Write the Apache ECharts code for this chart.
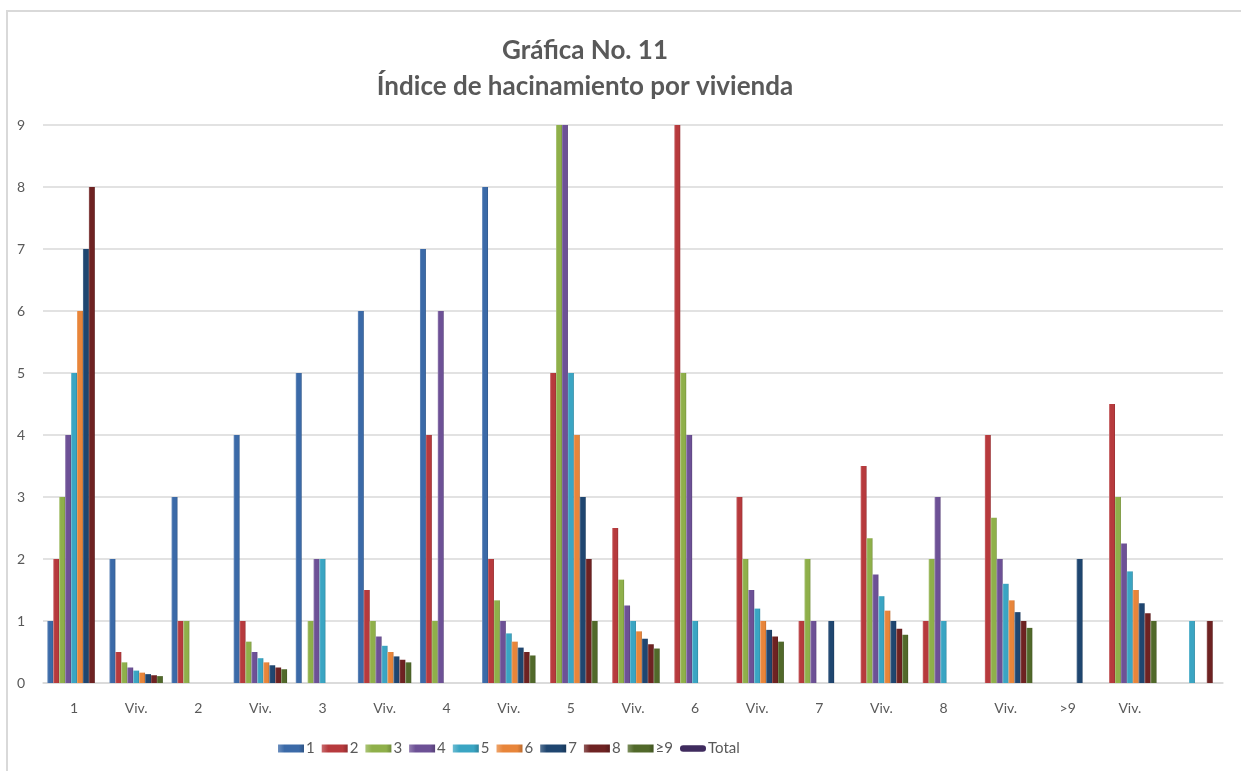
<!DOCTYPE html>
<html>
<head>
<meta charset="utf-8">
<script src="https://cdn.jsdelivr.net/npm/echarts@6/dist/echarts.min.js"></script>
<style>
  html, body { margin: 0; padding: 0; background: #ffffff; }
  #chart { width: 1241px; height: 771px; }
</style>
</head>
<body>
<div id="chart"></div>
<script>
// Categories along the x axis (last slot has no label)
const categories = ['1', 'Viv.', '2', 'Viv.', '3', 'Viv.', '4', 'Viv.', '5', 'Viv.', '6', 'Viv.', '7', 'Viv.', '8', 'Viv.', '>9', 'Viv.', ''];

// Series names, as shown in the legend
const seriesNames = ['1', '2', '3', '4', '5', '6', '7', '8', '≥9'];

// Values per series (null = no bar)
const s1 = [1, 2, 3, 4, 5, 6, 7, 8, null, null, null, null, null, null, null, null, null, null, null];
const s2 = [2, 0.5, 1, 1, null, 1.5, 4, 2, 5, 2.5, 9, 3, 1, 3.5, 1, 4, null, 4.5, null];
const s3 = [3, 0.333, 1, 0.667, 1, 1, 1, 1.333, 9, 1.667, 5, 2, 2, 2.333, 2, 2.667, null, 3, null];
const s4 = [4, 0.25, null, 0.5, 2, 0.75, 6, 1, 9, 1.25, 4, 1.5, 1, 1.75, 3, 2, null, 2.25, null];
const s5 = [5, 0.2, null, 0.4, 2, 0.6, null, 0.8, 5, 1, 1, 1.2, null, 1.4, 1, 1.6, null, 1.8, 1];
const s6 = [6, 0.167, null, 0.333, null, 0.5, null, 0.667, 4, 0.833, null, 1, null, 1.167, null, 1.333, null, 1.5, null];
const s7 = [7, 0.143, null, 0.286, null, 0.429, null, 0.571, 3, 0.714, null, 0.857, 1, 1, null, 1.143, 2, 1.286, null];
const s8 = [8, 0.125, null, 0.25, null, 0.375, null, 0.5, 2, 0.625, null, 0.75, null, 0.875, null, 1, null, 1.125, 1];
const s9 = [null, 0.111, null, 0.222, null, 0.333, null, 0.444, 1, 0.556, null, 0.667, null, 0.778, null, 0.889, null, 1, null];
const seriesValues = [s1, s2, s3, s4, s5, s6, s7, s8, s9];

// Total line (no points plotted)
const total = [];

// Y axis ticks
const yMin = 0, yMax = 9, yStep = 1;

const palette = ['#3b6aa8', '#b73a3d', '#8fb04a', '#6d5196', '#3aa5c3', '#e8853a', '#1f4670', '#6e2222', '#51692a'];
const totalColor = '#3f2b5e';

function shade(hex, f) {
  const n = parseInt(hex.slice(1), 16);
  let r = (n >> 16) & 255, g = (n >> 8) & 255, b = n & 255;
  const adj = c => Math.max(0, Math.min(255, Math.round(f > 0 ? c + (255 - c) * f : c * (1 + f))));
  return 'rgb(' + adj(r) + ',' + adj(g) + ',' + adj(b) + ')';
}

const font = 'Lato, "Open Sans", sans-serif';
const chart = echarts.init(document.getElementById('chart'), null, { renderer: 'canvas' });

const barSeries = seriesNames.map((name, i) => ({
  name: name,
  type: 'bar',
  data: seriesValues[i],
  barGap: '0%',
  barCategoryGap: '14%',
  clip: true,
  itemStyle: {
    color: new echarts.graphic.LinearGradient(0, 0, 1, 0, [
      { offset: 0, color: shade(palette[i], 0.25) },
      { offset: 0.25, color: palette[i] },
      { offset: 0.8, color: palette[i] },
      { offset: 1, color: shade(palette[i], -0.2) }
    ])
  }
}));

// Capsule-shaped legend marker for the line series
const capsule = 'path://M2.5,0 H17.5 A2.5,2.5 0 0 1 17.5,5 H2.5 A2.5,2.5 0 0 1 2.5,0 Z';

chart.setOption({
  animation: false,
  backgroundColor: '#ffffff',
  graphic: [{
    type: 'polyline',
    shape: { points: [[7, 900], [7, 11], [1300, 11]] },
    style: { stroke: '#d9d9d9', lineWidth: 2, fill: null }
  }],
  title: {
    text: 'Gráfica No. 11\nÍndice de hacinamiento por vivienda',
    left: 580,
    top: 28,
    textAlign: 'center',
    textStyle: {
      fontFamily: font,
      fontWeight: 'bold',
      fontSize: 26,
      lineHeight: 36,
      color: '#595959'
    }
  },
  legend: {
    left: 273,
    top: 736,
    itemWidth: 26,
    itemHeight: 8,
    itemGap: 7,
    symbolKeepAspect: true,
    textStyle: { fontFamily: font, fontSize: 15, color: '#595959', padding: [0, 0, 0, -3] },
    data: seriesNames.map(n => ({ name: n, icon: 'rect' }))
      .concat([{ name: 'Total', icon: capsule, itemStyle: { color: totalColor } }])
  },
  grid: { left: 43, right: 18, top: 125, bottom: 88, containLabel: false },
  xAxis: {
    type: 'category',
    data: categories,
    axisLine: { show: true, lineStyle: { color: '#d9d9d9', width: 1.5 } },
    axisTick: { show: false },
    axisLabel: { fontFamily: font, fontSize: 14, color: '#595959', margin: 18, interval: 0 }
  },
  yAxis: {
    type: 'value',
    min: yMin,
    max: yMax,
    interval: yStep,
    axisLine: { show: false },
    axisTick: { show: false },
    splitLine: { lineStyle: { color: '#d9d9d9', width: 1.5 } },
    axisLabel: { fontFamily: font, fontSize: 14, color: '#595959', margin: 18 }
  },
  series: barSeries.concat([{
    name: 'Total',
    type: 'line',
    data: total,
    symbol: 'none',
    color: totalColor,
    lineStyle: { color: totalColor, width: 4, cap: 'round' }
  }])
});
</script>
</body>
</html>
